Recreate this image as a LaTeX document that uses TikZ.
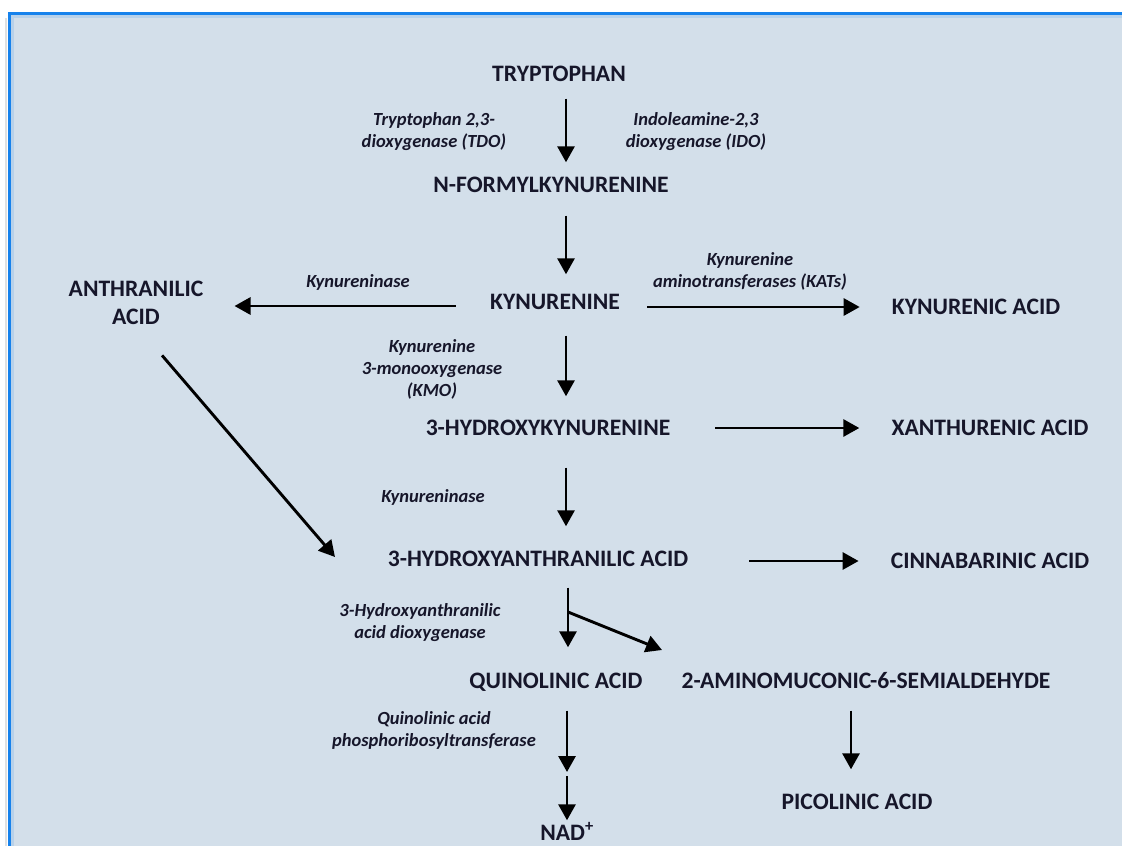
\documentclass[tikz,border=0pt]{standalone}
\usepackage{fontspec}
\setmainfont{Carlito}
\usetikzlibrary{arrows.meta}
\definecolor{panelfill}{RGB}{211,223,234}
\definecolor{panelline}{RGB}{22,130,236}
\definecolor{ink}{RGB}{22,22,42}
\tikzset{
  compound/.style={text=ink, font=\bfseries\fontsize{23.6}{28}\selectfont,
    inner sep=0pt, text height=15pt, text depth=0pt, align=center},
  enzyme/.style={text=ink, font=\bfseries\itshape\fontsize{18.5}{22}\selectfont,
    inner sep=0pt, align=center},
  arr/.style={draw=black, line width=2.9pt, -{Triangle[length=16pt,width=17pt]}},
}
\begin{document}
\begin{tikzpicture}[x=1pt,y=-1pt]
      \useasboundingbox (0,0) rectangle (1122,846);
      \fill[white] (0,0) rectangle (1122,846);
      % panel with its shadow
      \draw[black!12, line width=2.5pt] (6,18) -- (6,846);
      \path[fill=panelfill, draw=panelline, line width=3pt] (9.5,13.5) rectangle (1140,870);
      \draw[panelfill!85!panelline, line width=2.5pt] (11,16.5) -- (1122,16.5);
      \draw[panelfill!85!panelline, line width=2.5pt] (12.5,18) -- (12.5,846);
      \def \Compounds{
        trp/559/74/TRYPTOPHAN,
        nfk/551/185/N-FORMYLKYNURENINE,
        kyn/555/302/KYNURENINE,
        kyna/976/307/KYNURENIC ACID,
        hk/548/428/3-HYDROXYKYNURENINE,
        xa/990/428/XANTHURENIC ACID,
        haa/538/559/3-HYDROXYANTHRANILIC ACID,
        cin/990/561/CINNABARINIC ACID,
        qa/556/681/QUINOLINIC ACID,
        ams/866/681/2-AMINOMUCONIC-6-SEMIALDEHYDE,
        pic/857/802/PICOLINIC ACID}
      \def \Enzymes{
        tdo/434/132/{Tryptophan 2,3-\\dioxygenase (TDO)},
        ido/696/132/{Indoleamine-2,3\\dioxygenase (IDO)},
        kase/358/282/Kynureninase,
        kats/750/271/{Kynurenine\\aminotransferases (KATs)},
        kmo/432/369/{Kynurenine\\3-monooxygenase\\(KMO)},
        kasetwo/433/497/Kynureninase,
        haod/420/623/{3-Hydroxyanthranilic\\acid dioxygenase},
        qprt/434/730/{Quinolinic acid\\phosphoribosyltransferase}}
      \foreach \id / \x / \y / \txt in \Compounds{
        \node[compound] (\id) at (\x, \y) {\txt};
      }
      \node[compound, text height=, text depth=] (anth) at (136, 303) {ANTHRANILIC\\ACID};
      \node[compound] (nad) at (567, 833) {NAD\textsuperscript{+}};
      \foreach \id / \x / \y / \txt in \Enzymes{
        \node[enzyme] (\id) at (\x, \y) {\txt};
      }
      % main chain, going down
      \def \Steps{
        trp/nfk/566/17/15,
        nfk/kyn/566/23/20,
        kyn/hk/566/26/24,
        hk/haa/566/32/25,
        haa/qa/568/21/26,
        ams/pic/851/22/25}
      \foreach \a / \b / \x / \s / \e in \Steps{
        \path[arr, shorten <=\s pt, shorten >=\e pt] (\a.south -| \x,0) -- (\b.north -| \x,0);
      }
      % side branches, going right
      \def \Sides{
        kyn/kyna/27,
        hk/xa/45,
        haa/cin/61}
      \foreach \a / \b / \s in \Sides{
        \path[arr, shorten <=\s pt, shorten >=32pt] (\b.west -| \a.east) -- (\b.west);
      }
      \path[arr, shorten <=34pt, shorten >=31pt] ([yshift=-4pt]kyn.west) -- ([yshift=-4pt]kyn.west -| anth.east);
      \coordinate (haatip) at (335, 557);
      \path[arr, shorten <=40pt] (anth.south) -- (haatip);
      \coordinate (fork) at (568, 612);
      \coordinate (amstip) at (662, 650);
      \path[arr] (fork) -- (amstip);
      \coordinate (nadmid) at (567, 774);
      \path[arr, shorten <=22pt, shorten >=2pt] (qa.south -| nadmid) -- (nadmid);
      \path[arr, shorten <=2pt, shorten >=5pt] (nadmid) -- (nad.north -| nadmid);
    \end{tikzpicture}
\end{document}
